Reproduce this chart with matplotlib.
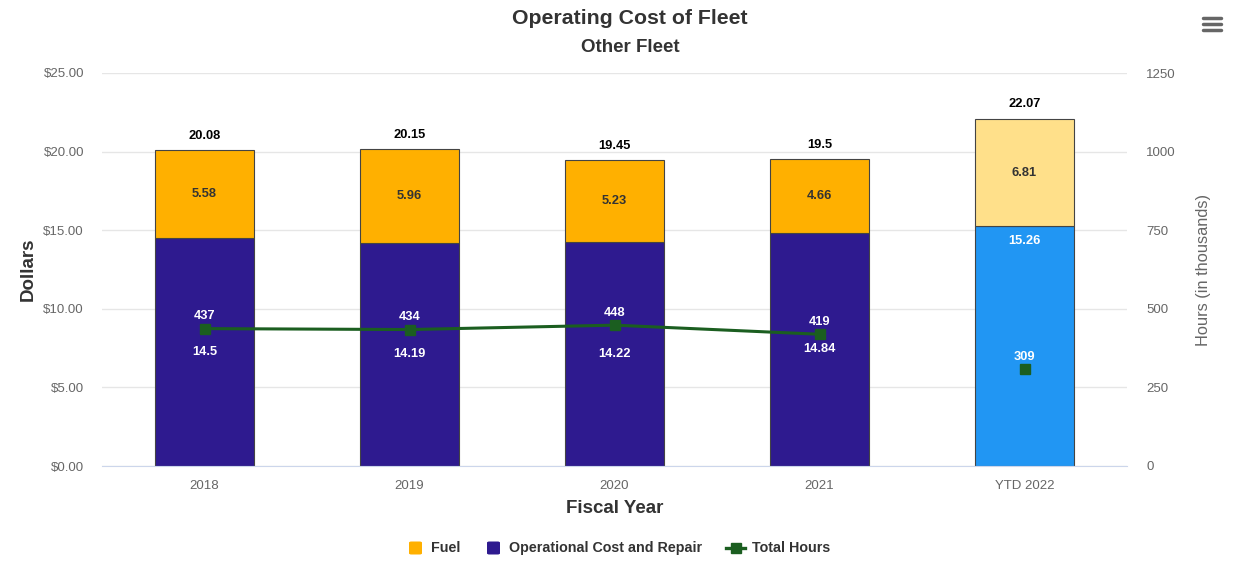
import matplotlib.pyplot as plt
from matplotlib.patches import FancyBboxPatch
from matplotlib.lines import Line2D

plt.rcParams['font.family'] = ['Liberation Sans', 'DejaVu Sans']

categories = ['2018', '2019', '2020', '2021', 'YTD 2022']
fuel = [5.58, 5.96, 5.23, 4.66, 6.81]
operational = [14.5, 14.19, 14.22, 14.84, 15.26]
totals = [20.08, 20.15, 19.45, 19.5, 22.07]
hours = [437, 434, 448, 419, 309]

dollar_ticks = [0, 5, 10, 15, 20, 25]
hour_ticks = [0, 250, 500, 750, 1000, 1250]

fuel_colors = ['#FFB000', '#FFB000', '#FFB000', '#FFB000', '#FFE08A']
op_colors = ['#2E1A8F', '#2E1A8F', '#2E1A8F', '#2E1A8F', '#2196F3']
line_color = '#1B5E20'
grid_color = '#E6E6E6'
tick_color = '#666666'

W, H = 1233, 565
fig = plt.figure(figsize=(W / 100, H / 100), dpi=100)
ax = fig.add_axes([102 / W, (H - 466) / H, (1127 - 102) / W, (466 - 73) / H])
ax2 = ax.twinx()

x = list(range(len(categories)))
bw = 0.485

ax.bar(x, operational, width=bw, color=op_colors, edgecolor='#444444', linewidth=0.8, zorder=2)
ax.bar(x, fuel, width=bw, bottom=operational, color=fuel_colors, edgecolor='#444444',
       linewidth=0.8, zorder=2)

ax.set_xlim(-0.5, len(categories) - 0.5)
ax.set_ylim(0, 25)
ax.set_yticks(dollar_ticks)
ax.set_yticklabels([f'${v:.2f}' for v in dollar_ticks])
ax.set_xticks(x)
ax.set_xticklabels(categories)
ax.yaxis.grid(True, color=grid_color, linewidth=1, zorder=0)
ax.set_axisbelow(True)
ax.tick_params(axis='both', length=0, labelsize=9.5, labelcolor=tick_color)
ax.tick_params(axis='x', pad=10)
ax.tick_params(axis='y', pad=13)
for side in ['top', 'left', 'right']:
    ax.spines[side].set_visible(False)
ax.spines['bottom'].set_color('#CCD6EB')

ax.set_ylabel('Dollars', fontsize=13.5, fontweight='bold', color='#333333', labelpad=5)
ax.set_xlabel('Fiscal Year', fontsize=13.5, fontweight='bold', color='#333333', labelpad=6)

ax2.set_ylim(0, 1250)
ax2.set_yticks(hour_ticks)
ax2.set_yticklabels([str(v) for v in hour_ticks])
ax2.tick_params(axis='y', length=0, labelsize=9.5, labelcolor=tick_color, pad=14)
for side in ['top', 'left', 'right', 'bottom']:
    ax2.spines[side].set_visible(False)
ax2.set_ylabel('Hours (in thousands)', fontsize=11.8, color=tick_color, labelpad=14)

# Total hours line: connected for full years, YTD shown as a lone point
ax2.plot(x[:4], hours[:4], color=line_color, linewidth=2.2, marker='s', markersize=6.5, zorder=5)
ax2.plot(x[4:], hours[4:], color=line_color, linestyle='none', marker='s', markersize=6.5, zorder=5)

# Data labels
for i in x:
    ax.text(i, totals[i] + 0.55, f'{totals[i]:g}', ha='center', va='bottom',
            fontsize=9.3, fontweight='bold', color='#000000')
    ax.text(i, operational[i] + fuel[i] / 2, f'{fuel[i]:g}', ha='center', va='center',
            fontsize=9.3, fontweight='bold', color='#333333')
    if i < 4:
        ax.text(i, operational[i] / 2, f'{operational[i]:g}', ha='center', va='center',
                fontsize=9.3, fontweight='bold', color='white')
    else:
        ax.text(i, operational[i] - 0.95, f'{operational[i]:g}', ha='center', va='center',
                fontsize=9.3, fontweight='bold', color='white')
    ax2.annotate(f'{hours[i]}', (i, hours[i]), xytext=(0, 4.5), textcoords='offset points',
                 ha='center', va='bottom', fontsize=9.3, fontweight='bold', color='white',
                 zorder=6)

fig.text(630 / W, 1 - 19 / H, 'Operating Cost of Fleet', ha='center', va='center',
         fontsize=15.3, fontweight='bold', color='#333333')
fig.text(630 / W, 1 - 48 / H, 'Other Fleet', ha='center', va='center',
         fontsize=13.5, fontweight='bold', color='#333333')

# Menu icon
for yy in (18, 24, 30):
    fig.add_artist(Line2D([1203 / W, 1221 / W], [1 - yy / H, 1 - yy / H], color='#666666',
                          linewidth=2.5, solid_capstyle='round'))

# Legend
ly = 1 - 548 / H
def legend_square(px, color):
    fig.add_artist(FancyBboxPatch((px / W, ly - 6.5 / H), 13 / W, 13 / H,
                                  boxstyle='round,pad=0,rounding_size=0.002',
                                  facecolor=color, edgecolor='none', transform=fig.transFigure))

legend_square(409, '#FFB000')
fig.text(431 / W, ly, 'Fuel', ha='left', va='center', fontsize=10.3, fontweight='bold', color='#333333')
legend_square(487, '#2E1A8F')
fig.text(509 / W, ly, 'Operational Cost and Repair', ha='left', va='center', fontsize=10.3,
         fontweight='bold', color='#333333')
fig.add_artist(Line2D([726 / W, 745 / W], [ly, ly], color=line_color, linewidth=2.4))
fig.add_artist(Line2D([735.5 / W], [ly], color=line_color, marker='s', markersize=6.5))
fig.text(752 / W, ly, 'Total Hours', ha='left', va='center', fontsize=10.3, fontweight='bold',
         color='#333333')

fig.savefig('out.png', dpi=100, facecolor='white')
